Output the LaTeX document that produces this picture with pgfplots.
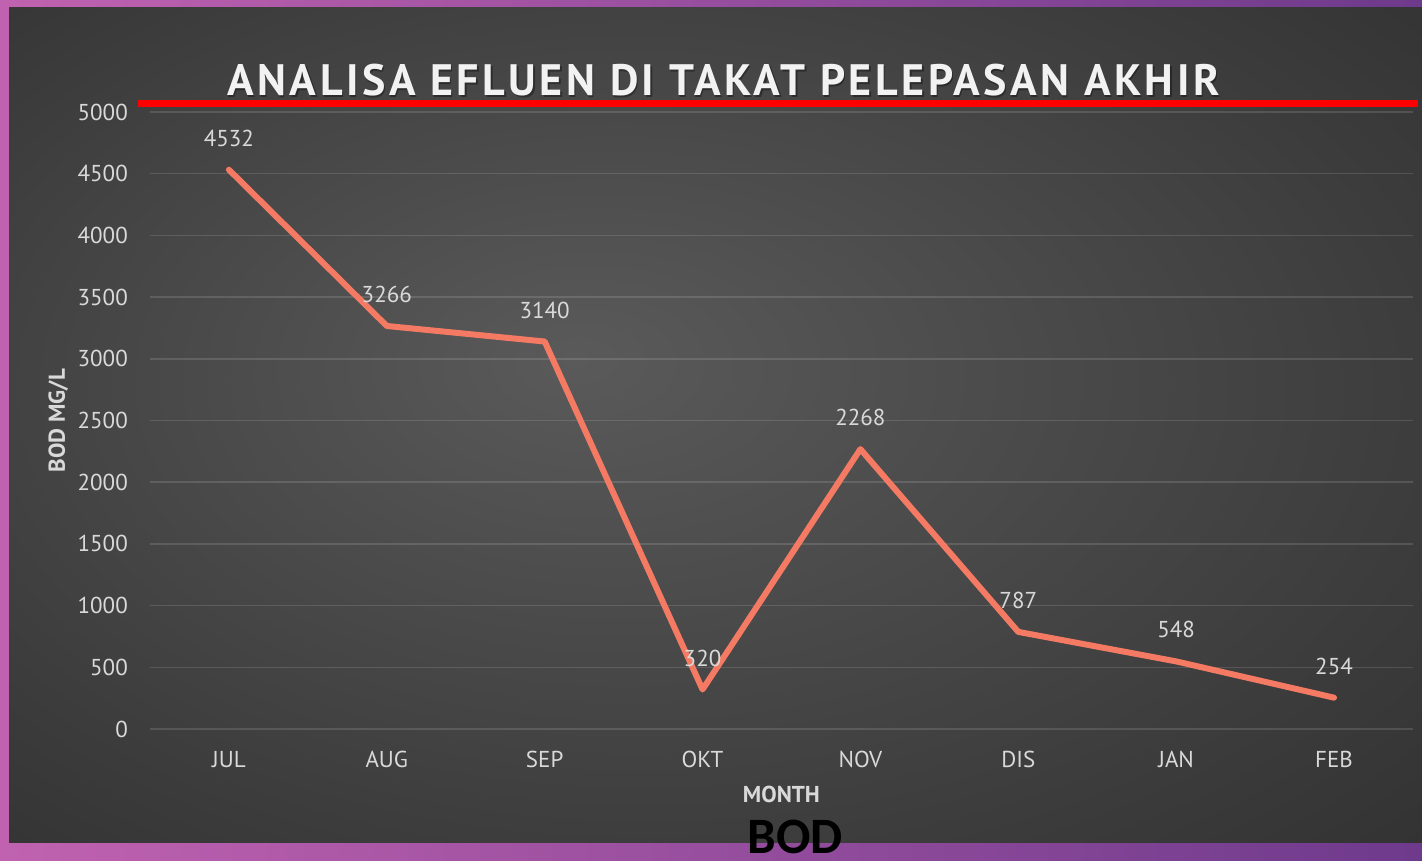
\documentclass[border=0pt]{standalone}
\usepackage{pgfplots}
\pgfplotsset{compat=1.18}
\usepackage{fontspec}
\setmainfont{PT Sans}
\newfontfamily\titlefont{PT Sans}[LetterSpace=8]
\newfontfamily\bodfont{Carlito}
\definecolor{bgin}{HTML}{5A5A5A}
\definecolor{bgmid}{HTML}{3C3C3C}
\definecolor{bgout}{HTML}{262626}
\definecolor{brdA}{HTML}{C062B0}
\definecolor{brdB}{HTML}{6E3A8C}
\definecolor{lineC}{HTML}{F47A63}
\definecolor{txt}{HTML}{D9D9D9}
\pgfdeclareradialshading{bgshade}{\pgfpoint{-5bp}{4bp}}{color(0bp)=(bgin); color(28bp)=(bgmid); color(50bp)=(bgout)}
\newcommand\tickfont{\fontsize{23}{27}\selectfont}
\begin{document}
\begin{tikzpicture}[x=1pt,y=1pt]
\useasboundingbox (0,0) rectangle (1422,860);
\shade[left color=brdA, right color=brdB] (0,0) rectangle (1422,860);
\shade[shading=bgshade] (9,18) rectangle (1422,852);
\begin{axis}[at={(150pt,131pt)}, anchor=south west, scale only axis,
  width=1263pt, height=617pt,
  xmin=-0.5, xmax=7.5, ymin=0, ymax=5000,
  ytick={0,500,...,5000}, xtick={0,...,7},
  xticklabels={JUL,AUG,SEP,OKT,NOV,DIS,JAN,FEB},
  axis line style={draw=none}, major tick length=0pt,
  ymajorgrids, major grid style={white, opacity=0.13, line width=1.6pt},
  tick label style={font=\tickfont, text=txt},
  yticklabel style={anchor=east, inner sep=0pt, xshift=-22pt},
  xticklabel style={anchor=base, inner sep=0pt, yshift=-38pt},
  /pgf/number format/assume math mode=true,
  /pgf/number format/set thousands separator={},
  xlabel={MONTH}, ylabel={BOD MG/L},
  xlabel style={at={(axis description cs:0.5,-0.1199)}, anchor=base, font=\bfseries\tickfont, text=txt, inner sep=0pt},
  ylabel style={at={(axis description cs:-0.0673,0.5)}, rotate=0, anchor=base, font=\bfseries\tickfont, text=txt, inner sep=0pt},
  clip=false,
]
\addplot[lineC, line width=6pt, line cap=round, line join=round,
  nodes near coords,
  every node near coord/.append style={anchor=base, yshift=23.5pt, inner sep=0pt, text=txt, font=\tickfont}]
  coordinates {(0,4532) (1,3266) (2,3140) (3,320) (4,2268) (5,787) (6,548) (7,254)};
\end{axis}
\node[anchor=base, text=black, opacity=0.35, font=\titlefont\bfseries\fontsize{44}{50}\selectfont] at (725,762.5) {ANALISA EFLUEN DI TAKAT PELEPASAN AKHIR};
\node[anchor=base, text=white!95!black, font=\titlefont\bfseries\fontsize{44}{50}\selectfont] at (723.5,764) {ANALISA EFLUEN DI TAKAT PELEPASAN AKHIR};
\draw[red, line width=7pt] (138,756) -- (1418,756);
\node[anchor=base, inner sep=0pt, text=black, font=\bodfont\bfseries\fontsize{51}{55}\selectfont] at (795,7) {BOD};
\end{tikzpicture}
\end{document}
